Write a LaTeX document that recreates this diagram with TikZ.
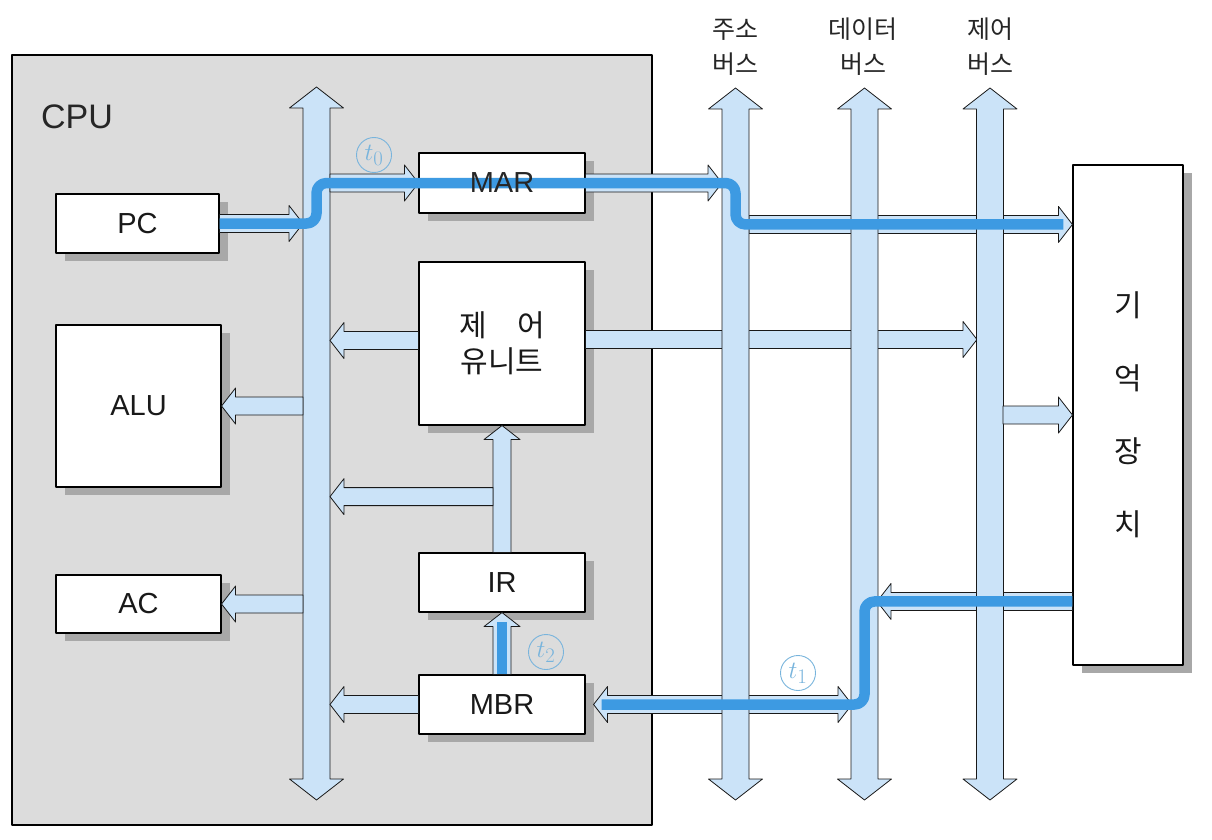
\documentclass[tikz,border=0pt]{standalone}
\usepackage{fontspec}
\setmainfont{Liberation Sans}
\newfontfamily\kr{Noto Sans CJK KR}
\usetikzlibrary{calc,shadows}
\definecolor{cpugray}{HTML}{DCDCDC}
\definecolor{busblue}{HTML}{CBE3F8}
\definecolor{flowblue}{HTML}{3D9AE2}
\definecolor{circblue}{HTML}{78B4DC}
\definecolor{shadowgray}{HTML}{A8A8A8}
\tikzset{
  regbox/.style={draw, line width=1.1pt, fill=white, inner sep=0pt, text=black!90,
    font=\fontsize{29}{34}\selectfont,
    drop shadow={shadow xshift=9pt, shadow yshift=-8pt, fill=shadowgray, opacity=1}},
  buslbl/.style={align=center, text=black!85, font=\kr\fontsize{25}{35}\selectfont},
  tmark/.style={circle, draw=circblue, line width=0.9pt, text=circblue, minimum size=35,
    inner sep=0pt, font=\fontsize{29}{29}\selectfont},
  flow/.style={line width=10.5pt, draw=flowblue, rounded corners=10pt},
  fatarrow/.style={draw=black!90, line width=0.8pt, fill=busblue,
    /utils/exec={\def\fatsw{9}\def\fathw{18}\def\fathl{14}},
    to path={let \p1=(\tikztostart), \p2=(\tikztotarget),
      \n1={veclen(\x2-\x1,\y2-\y1)}, \n2={(\x2-\x1)/\n1}, \n3={(\y2-\y1)/\n1} in
      ({\x1-(\n3)*\fatsw},{\y1+(\n2)*\fatsw})
      -- ({\x2-(\n2)*\fathl-(\n3)*\fatsw},{\y2-(\n3)*\fathl+(\n2)*\fatsw})
      -- ({\x2-(\n2)*\fathl-(\n3)*\fathw},{\y2-(\n3)*\fathl+(\n2)*\fathw})
      -- (\p2)
      -- ({\x2-(\n2)*\fathl+(\n3)*\fathw},{\y2-(\n3)*\fathl-(\n2)*\fathw})
      -- ({\x2-(\n2)*\fathl+(\n3)*\fatsw},{\y2-(\n3)*\fathl-(\n2)*\fatsw})
      -- ({\x1+(\n3)*\fatsw},{\y1-(\n2)*\fatsw}) -- cycle}},
  fatboth/.style={draw=black!90, line width=0.8pt, fill=busblue,
    /utils/exec={\def\fatsw{9}\def\fathw{18}\def\fathl{14}},
    to path={let \p1=(\tikztostart), \p2=(\tikztotarget),
      \n1={veclen(\x2-\x1,\y2-\y1)}, \n2={(\x2-\x1)/\n1}, \n3={(\y2-\y1)/\n1} in
      (\p1)
      -- ({\x1+(\n2)*\fathl-(\n3)*\fathw},{\y1+(\n3)*\fathl+(\n2)*\fathw})
      -- ({\x1+(\n2)*\fathl-(\n3)*\fatsw},{\y1+(\n3)*\fathl+(\n2)*\fatsw})
      -- ({\x2-(\n2)*\fathl-(\n3)*\fatsw},{\y2-(\n3)*\fathl+(\n2)*\fatsw})
      -- ({\x2-(\n2)*\fathl-(\n3)*\fathw},{\y2-(\n3)*\fathl+(\n2)*\fathw})
      -- (\p2)
      -- ({\x2-(\n2)*\fathl+(\n3)*\fathw},{\y2-(\n3)*\fathl-(\n2)*\fathw})
      -- ({\x2-(\n2)*\fathl+(\n3)*\fatsw},{\y2-(\n3)*\fathl-(\n2)*\fatsw})
      -- ({\x1+(\n2)*\fathl+(\n3)*\fatsw},{\y1+(\n3)*\fathl-(\n2)*\fatsw})
      -- ({\x1+(\n2)*\fathl+(\n3)*\fathw},{\y1+(\n3)*\fathl-(\n2)*\fathw})
      -- cycle}},
  busarrow/.style={fatboth, /utils/exec={\def\fatsw{13.5}\def\fathw{27}\def\fathl{21}}},
}
\begin{document}
\begin{tikzpicture}[x=1pt, y=-1pt, line join=round]
	\useasboundingbox (0,0) rectangle (1212,840);
	% CPU
	\node[draw, line width=1.2pt, fill=cpugray, minimum width=640, minimum height=770] (cpu) at (332,440) {};
	\node[text=black!85, font=\fontsize{34}{40}\selectfont] (cpulbl) at (77,117) {CPU};
	% registers and units
	\node[regbox, minimum width=163, minimum height=59] (PC) at (137.5,223.5) {PC};
	\node[regbox, minimum width=165, minimum height=162] (ALU) at (138.5,406) {ALU};
	\node[regbox, minimum width=165, minimum height=58] (AC) at (138.5,604) {AC};
	\node[regbox, minimum width=166, minimum height=60] (MAR) at (502,183) {};
	\node[regbox, minimum width=166, minimum height=163, align=center, font=\kr\fontsize{30}{36}\selectfont] (CU) at (502,343.5) {제\hspace{1em}어\\유니트};
	\node[regbox, minimum width=166, minimum height=59] (IR) at (502,582.5) {IR};
	\node[regbox, minimum width=166, minimum height=59] (MBR) at (502,704.5) {MBR};
	\node[regbox, minimum width=110, minimum height=500, align=center, font=\kr\fontsize{30}{73}\selectfont] (mem) at (1128,415) {기\\억\\장\\치};
	% buses
	\node[buslbl] (albl) at (735.5,47) {주소\\버스};
	\node[buslbl] (dlbl) at (863,47) {데이터\\버스};
	\node[buslbl] (clbl) at (990,47) {제어\\버스};
	\coordinate (ibus) at (316.5,0); \coordinate (ibusL) at (303,0); \coordinate (ibusR) at (330,0);
	\coordinate (abus) at (735.5,0); \coordinate (abusL) at (722,0); \coordinate (abusR) at (749,0);
	\coordinate (dbus) at (864.5,0); \coordinate (dbusL) at (852,0); \coordinate (dbusR) at (877,0);
	\coordinate (cbus) at (990,0); \coordinate (cbusL) at (977,0); \coordinate (cbusR) at (1003,0);
	\coordinate (memA) at ($(mem.north west)+(0,60)$);
	\coordinate (memD) at ($(mem.north west)+(0,437)$);
	\coordinate (cuL) at ([yshift=3pt]CU.west);
	\coordinate (cuR) at ([yshift=4pt]CU.east);
	\coordinate (mbrR) at ([xshift=8pt]MBR.east);
	\coordinate (irbr) at ($(CU.south)!0.56!(IR.north)$);
	\coordinate (irbrL) at ([xshift=-9pt]irbr);
	% crossing arrows
	\draw[fatarrow] (cuR) to (cuR -| cbusL);
	\draw[fatarrow] (abusR |- memA) to (memA);
	\draw[fatarrow] (memD) to (memD -| dbusR);
	\draw[fatboth] (mbrR) to (MBR.east -| dbusL);
	\draw[busarrow] (ibus |- 0,87) to (ibus |- 0,800);
	\draw[busarrow] (abus |- 0,88) to (abus |- 0,800);
	\draw[busarrow] (dbus |- 0,88) to (dbus |- 0,800);
	\draw[busarrow] (cbus |- 0,88) to (cbus |- 0,800);
	% branches
	\draw[fatarrow] (PC.east) to (PC.east -| ibusL);
	\draw[fatarrow] (MAR.west -| ibusR) to (MAR.west);
	\draw[fatarrow] (MAR.east) to (MAR.east -| abusL);
	\draw[fatarrow] (cuL) to (cuL -| ibusR);
	\draw[fatarrow] (ALU.east -| ibusL) to (ALU.east);
	\draw[fatarrow] (AC.east -| ibusL) to (AC.east);
	\draw[fatarrow] (IR.north) to (CU.south);
	\draw[fatarrow] (irbrL) to (irbrL -| ibusR);
	\draw[fatarrow] (MBR.north) to (IR.south);
	\draw[fatarrow] (MBR.west) to (MBR.west -| ibusR);
	\draw[fatarrow] (mem.west -| cbusR) to (mem.west);
	% fetch flow
	\draw[flow] (PC.east) -- (PC.east -| ibus) -- (ibus |- MAR.west) -- (abus |- MAR.east) -- (abus |- memA) -- ([xshift=-9pt]memA);
	\draw[flow] (memD) -- (memD -| dbus) -- (dbus |- MBR.east) -- ([xshift=16pt]MBR.east);
	\draw[flow] (MBR.north) -- ($(IR.south)+(0,9)$);
	\node[text=black!85, font=\fontsize{29}{34}\selectfont] (MARlbl) at (MAR) {MAR};
	\node[tmark] (t0) at (374,155) {$t_0$};
	\node[tmark] (t1) at (798,673) {$t_1$};
	\node[tmark] (t2) at (546,652) {$t_2$};
\end{tikzpicture}
\end{document}
